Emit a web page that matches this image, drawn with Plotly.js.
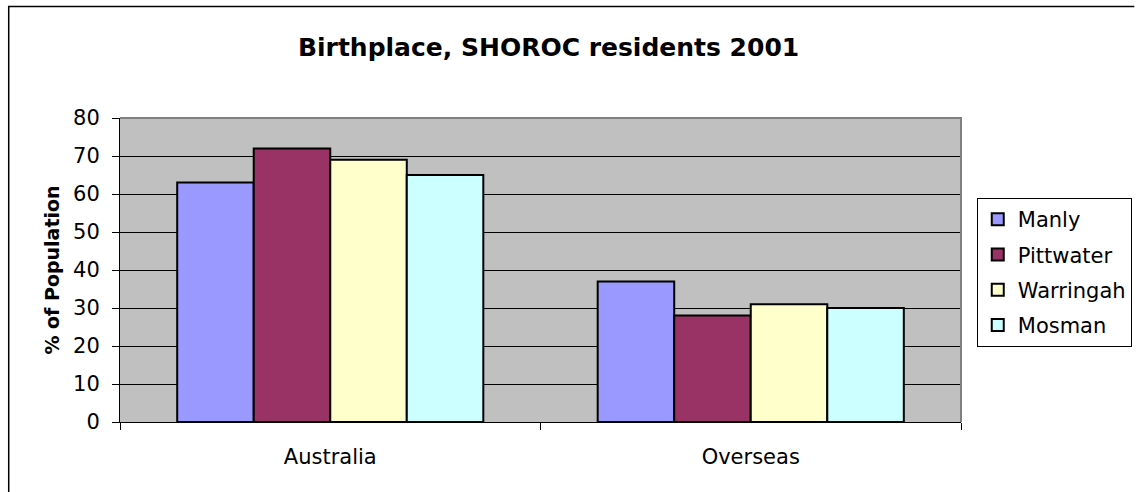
<!DOCTYPE html>
<html>
<head>
<meta charset="utf-8">
<script src="https://cdn.plot.ly/plotly-3.0.1.min.js"></script>
<style>
  html, body { margin: 0; padding: 0; background: #ffffff; }
  #chart { width: 1144px; height: 492px; }
</style>
</head>
<body>
<div id="chart"></div>
<script>
// ---- data ----
const categories = ["Australia", "Overseas"];
const seriesNames = ["Manly", "Pittwater", "Warringah", "Mosman"];
const manly = [63, 37];
const pittwater = [72, 28];
const warringah = [69, 31];
const mosman = [65, 30];
const seriesColors = ["#9999FF", "#993366", "#FFFFCC", "#CCFFFF"];
const yTickVals = [0, 10, 20, 30, 40, 50, 60, 70, 80];
const chartTitle = "Birthplace, SHOROC residents 2001";
const yTitle = "% of Population";

const seriesValues = [manly, pittwater, warringah, mosman];

const FONT = "DejaVu Sans, Liberation Sans, Arial, sans-serif";

const traces = seriesNames.map((name, i) => ({
  type: "bar",
  name: name,
  x: categories,
  y: seriesValues[i],
  legendgroup: name,
  marker: { color: seriesColors[i], line: { color: "#000000", width: 2 } },
  hoverinfo: "x+y+name"
}));

const W = 1144, H = 492;
const M = { l: 120, r: 170, t: 118, b: 70 };
const pw = W - M.l - M.r, ph = H - M.t - M.b;
const px = v => (v - M.l) / pw;          // pixel x -> paper x
const py = v => (H - M.b - v) / ph;      // pixel y -> paper y

const layout = {
  width: W, height: H,
  margin: { l: M.l, r: M.r, t: M.t, b: M.b, pad: 0 },
  paper_bgcolor: "#ffffff",
  plot_bgcolor: "#C0C0C0",
  font: { family: FONT, color: "#000000", size: 21 },
  title: {
    text: "<b>" + chartTitle + "</b>",
    font: { family: FONT, size: 25, color: "#000000" },
    x: 583 / W, xanchor: "center",
    y: 1 - 47 / H, yanchor: "middle", xref: "paper", yref: "container"
  },
  barmode: "group",
  bargap: 0.272,
  bargroupgap: 0,
  showlegend: true,
  legend: {
    x: px(990), xanchor: "left",
    y: py(198), yanchor: "top",
    bgcolor: "#ffffff",
    bordercolor: "#000000", borderwidth: 1,
    font: { family: FONT, size: 21, color: "#000000" },
    tracegroupgap: 5,
    traceorder: "grouped"
  },
  xaxis: {
    type: "category",
    showgrid: false,
    showline: true, linecolor: "#000000", linewidth: 1,
    ticks: "outside", tickson: "boundaries", ticklen: 7, tickcolor: "#000000", tickwidth: 1,
    tickfont: { family: FONT, size: 21, color: "#000000" },
    ticklabelstandoff: 16,
    fixedrange: true
  },
  yaxis: {
    range: [0, 80],
    tickmode: "array", tickvals: yTickVals, ticktext: yTickVals.map(String),
    showgrid: true, gridcolor: "#000000", gridwidth: 1,
    zeroline: false,
    showline: true, linecolor: "#000000", linewidth: 1,
    ticks: "outside", ticklen: 7, tickcolor: "#000000", tickwidth: 1,
    tickfont: { family: FONT, size: 21, color: "#000000" },
    ticklabelstandoff: 8,
    title: { text: "<b>" + yTitle + "</b>", font: { family: FONT, size: 19, color: "#000000" }, standoff: 8 },
    automargin: false,
    fixedrange: true
  },
  shapes: [
    // gray plot-area frame (top and right edges)
    { type: "path", xref: "paper", yref: "paper",
      path: "M 0 1 L 1 1 L 1 0",
      line: { color: "#808080", width: 2 }, layer: "above" },
    // outer chart border (left and top, cropped at right/bottom)
    { type: "path", xref: "paper", yref: "paper",
      path: `M ${px(7)} ${py(500)} L ${px(7)} ${py(6.5)} L ${px(1150)} ${py(6.5)}`,
      line: { color: "#000000", width: 1.5 }, layer: "above" }
  ]
};

Plotly.newPlot("chart", traces, layout, { displayModeBar: false, staticPlot: true });
</script>
</body>
</html>
